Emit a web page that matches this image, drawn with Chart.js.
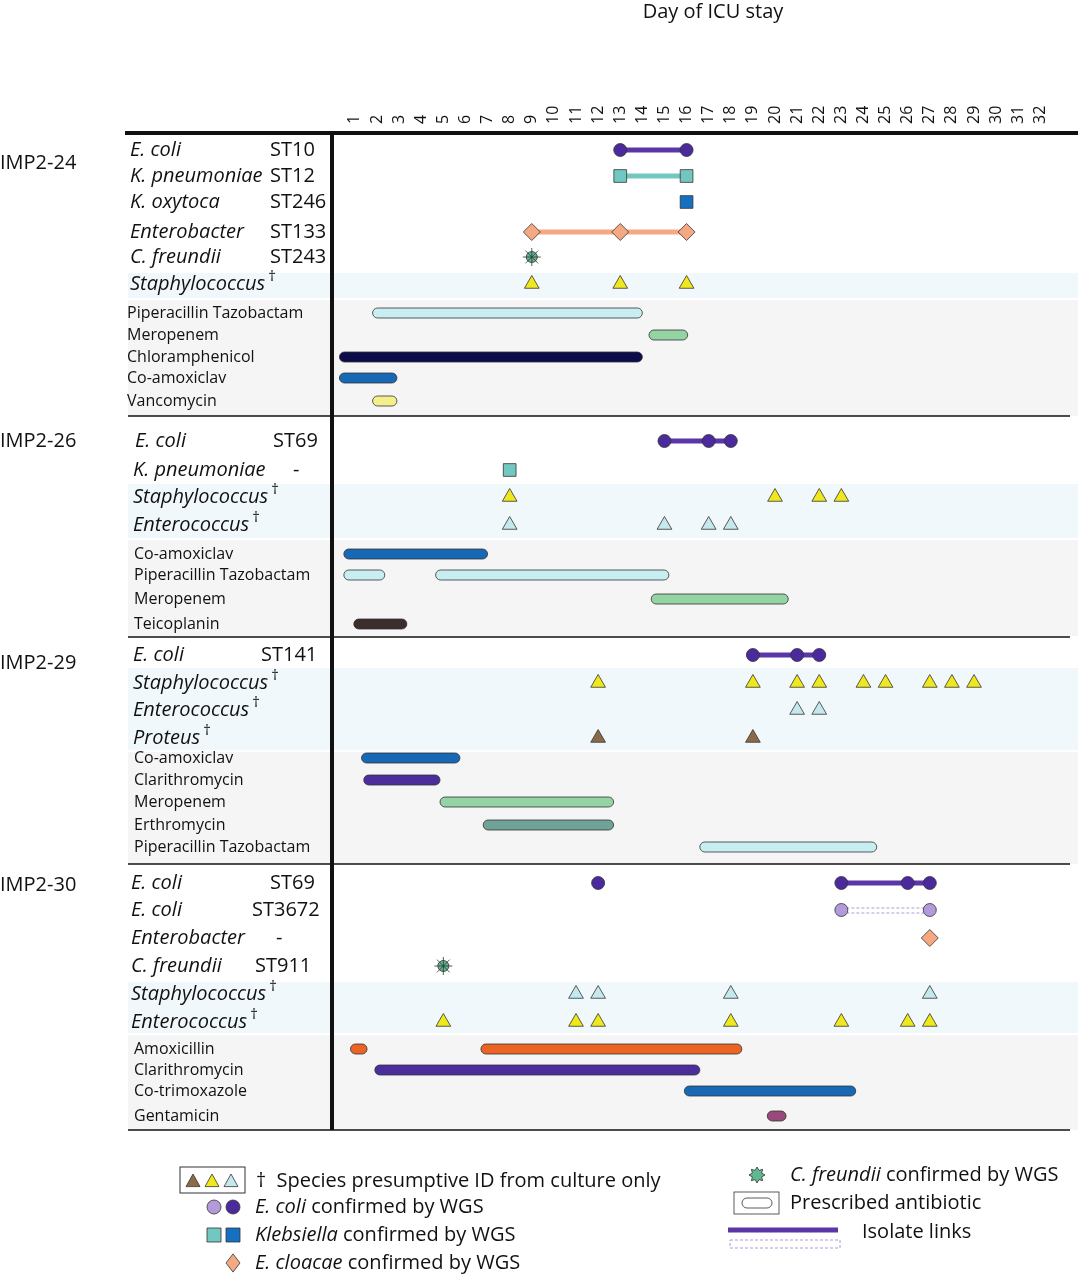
<!DOCTYPE html>
<html><head><meta charset="utf-8">
<script src="https://cdn.jsdelivr.net/npm/chart.js@4.4.0/dist/chart.umd.min.js"></script>
<style>html,body{margin:0;background:#fff}#wrap{width:1080px;height:1280px}</style>
</head><body><div id="wrap"><canvas id="c" width="1080" height="1280"></canvas></div>
<script>
// --- Data (days of ICU stay) ---
const days = Array.from({length: 32}, (_, i) => i + 1);
const patients = ['IMP2-24', 'IMP2-26', 'IMP2-29', 'IMP2-30'];

// IMP2-24
const p24Ecoli = [13, 16];
const p24Kpn = [13, 16];
const p24Koxy = [16];
const p24Entero = [9, 13, 16];
const p24Cfreundii = [9];
const p24Staph = [9, 13, 16];
const p24Abx = ['Piperacillin Tazobactam', 'Meropenem', 'Chloramphenicol', 'Co-amoxiclav', 'Vancomycin'];
const p24AbxStart = [1.8, 14.3, 0.3, 0.3, 1.8];
const p24AbxEnd = [14.0, 16.05, 14.0, 2.9, 2.9];

// IMP2-26
const p26Ecoli = [15, 17, 18];
const p26Kpn = [8];
const p26Staph = [8, 20, 22, 23];
const p26Enterococ = [8, 15, 17, 18];
const p26Abx = ['Co-amoxiclav', 'Piperacillin Tazobactam', 'Piperacillin Tazobactam', 'Meropenem', 'Teicoplanin'];
const p26AbxStart = [0.5, 0.5, 4.65, 14.4, 0.95];
const p26AbxEnd = [7.0, 2.35, 15.2, 20.6, 3.35];

// IMP2-29
const p29Ecoli = [19, 21, 22];
const p29Staph = [12, 19, 21, 22, 24, 25, 27, 28, 29];
const p29Enterococ = [21, 22];
const p29Proteus = [12, 19];
const p29Abx = ['Co-amoxiclav', 'Clarithromycin', 'Meropenem', 'Erthromycin', 'Piperacillin Tazobactam'];
const p29AbxStart = [1.3, 1.4, 4.85, 6.8, 16.6];
const p29AbxEnd = [5.75, 4.85, 12.7, 12.7, 24.6];

// IMP2-30
const p30EcoliA = [12];
const p30EcoliLink = [23, 26, 27];
const p30EcoliB = [23, 27];
const p30Entero = [27];
const p30Cfreundii = [5];
const p30Staph = [11, 12, 18, 27];
const p30Enterococ = [5, 11, 12, 18, 23, 26, 27];
const p30Abx = ['Amoxicillin', 'Amoxicillin', 'Clarithromycin', 'Co-trimoxazole', 'Gentamicin'];
const p30AbxStart = [0.8, 6.7, 1.9, 15.9, 19.65];
const p30AbxEnd = [1.55, 18.5, 16.6, 23.65, 20.5];

// --- Layout (y in px below the top rule) ---
const COL = {
  ecoliD: '#4a2a9c', ecoliL: '#b39ad8', kpnL: '#72c7c0', kpnD: '#1670c2',
  ent: '#f5a982', yel: '#f0e81e', lb: '#c4e8ee', brown: '#8a6a48', cf: '#5fb891',
  link: '#5a36a8'
};
const abxColors = {
  'Piperacillin Tazobactam': '#c9eef2', 'Meropenem': '#93d3a4', 'Chloramphenicol': '#0c0c4a',
  'Co-amoxiclav': '#1769b5', 'Vancomycin': '#f5ee8c', 'Teicoplanin': '#3a2d2a',
  'Clarithromycin': '#4b2d9c', 'Erthromycin': '#6fa397', 'Amoxicillin': '#ec6424',
  'Co-trimoxazole': '#1769b5', 'Gentamicin': '#9a4a7a'
};
const orgRows = [
  {y: 17, sp: 'E. coli', st: 'ST10', stx: 270, x: 130}, {y: 43, sp: 'K. pneumoniae', st: 'ST12', stx: 270, x: 130},
  {y: 69, sp: 'K. oxytoca', st: 'ST246', stx: 270, x: 130}, {y: 99, sp: 'Enterobacter', st: 'ST133', stx: 270, x: 130},
  {y: 124, sp: 'C. freundii', st: 'ST243', stx: 270, x: 130}, {y: 151, sp: 'Staphylococcus', dag: true, x: 130},
  {y: 308, sp: 'E. coli', st: 'ST69', stx: 273, x: 135}, {y: 337, sp: 'K. pneumoniae', st: '-', stx: 293, x: 133},
  {y: 364, sp: 'Staphylococcus', dag: true, x: 133}, {y: 392, sp: 'Enterococcus', dag: true, x: 133},
  {y: 522, sp: 'E. coli', st: 'ST141', stx: 261, x: 133}, {y: 550, sp: 'Staphylococcus', dag: true, x: 133},
  {y: 577, sp: 'Enterococcus', dag: true, x: 133}, {y: 605, sp: 'Proteus', dag: true, x: 133},
  {y: 750, sp: 'E. coli', st: 'ST69', stx: 270, x: 131}, {y: 777, sp: 'E. coli', st: 'ST3672', stx: 252, x: 131},
  {y: 805, sp: 'Enterobacter', st: '-', stx: 276, x: 131}, {y: 833, sp: 'C. freundii', st: 'ST911', stx: 255, x: 131},
  {y: 861, sp: 'Staphylococcus', dag: true, x: 131}, {y: 889, sp: 'Enterococcus', dag: true, x: 131}
];
const abxRowY = [[180, 202, 224, 245, 268], [421, 442, 466, 491], [625, 647, 669, 692, 714], [916, 937, 958, 983]];
const abxLists = [
  [p24Abx, p24AbxStart, p24AbxEnd, [0, 1, 2, 3, 4]],
  [p26Abx, p26AbxStart, p26AbxEnd, [0, 1, 1, 2, 3]],
  [p29Abx, p29AbxStart, p29AbxEnd, [0, 1, 2, 3, 4]],
  [p30Abx, p30AbxStart, p30AbxEnd, [0, 0, 1, 2, 3]]
];
const patientY = [30, 308, 530, 752];
const blueBands = [[140, 165], [351, 405], [535, 617], [849, 900]];
const greyBands = [[167, 283], [407, 503], [619, 731], [902, 997]];
const blockLines = [283, 504, 731, 997];

const R = i => orgRows[i].y;
function pts(d, y) { return d.map(x => ({x, y})); }
const datasets = [];
function link(d, y, color, dash) {
  datasets.push({type: 'line', data: pts(d, y), borderColor: color, borderWidth: dash ? 1 : 5,
    borderDash: dash ? [3, 2] : [], pointRadius: 0, order: 5});
  if (dash) datasets.push({type: 'line', data: pts(d, y + 5), borderColor: color, borderWidth: 1,
    borderDash: [3, 2], pointRadius: 0, order: 5});
}
function marks(d, y, style, color, r) {
  datasets.push({type: 'scatter', data: pts(d, y), pointStyle: style, backgroundColor: color,
    borderColor: '#333', borderWidth: 0.8, pointRadius: r || 6.5, order: 1});
}
// IMP2-24
link(p24Ecoli, R(0), COL.link); marks(p24Ecoli, R(0), 'circle', COL.ecoliD);
link(p24Kpn, R(1), COL.kpnL); marks(p24Kpn, R(1), 'rect', COL.kpnL, 9);
marks(p24Koxy, R(2), 'rect', COL.kpnD, 9);
link(p24Entero, R(3), COL.ent); marks(p24Entero, R(3), 'rectRot', COL.ent, 8.5);
marks(p24Cfreundii, R(4), 'star', COL.cf, 9);
marks(p24Cfreundii, R(4), 'circle', COL.cf, 5.5);
marks(p24Staph, R(5), 'triangle', COL.yel, 8.5);
// IMP2-26
link([15, 18], R(6), COL.link); marks(p26Ecoli, R(6), 'circle', COL.ecoliD);
marks(p26Kpn, R(7), 'rect', COL.kpnL, 9);
marks(p26Staph, R(8), 'triangle', COL.yel, 8.5);
marks(p26Enterococ, R(9), 'triangle', COL.lb, 8.5);
// IMP2-29
link([19, 22], R(10), COL.link); marks(p29Ecoli, R(10), 'circle', COL.ecoliD);
marks(p29Staph, R(11), 'triangle', COL.yel, 8.5);
marks(p29Enterococ, R(12), 'triangle', COL.lb, 8.5);
marks(p29Proteus, R(13), 'triangle', COL.brown, 8.5);
// IMP2-30
marks(p30EcoliA, R(14), 'circle', COL.ecoliD);
link([23, 27], R(14), COL.link); marks(p30EcoliLink, R(14), 'circle', COL.ecoliD);
link(p30EcoliB, R(15) - 2, COL.ecoliL, true); marks(p30EcoliB, R(15), 'circle', COL.ecoliL);
marks(p30Entero, R(16), 'rectRot', COL.ent, 8.5);
marks(p30Cfreundii, R(17), 'star', COL.cf, 9);
marks(p30Cfreundii, R(17), 'circle', COL.cf, 5.5);
marks(p30Staph, R(18), 'triangle', COL.lb, 8.5);
marks(p30Enterococ, R(19), 'triangle', COL.yel, 8.5);

function rr(ctx, x, y, w, h, r) {
  ctx.beginPath(); ctx.moveTo(x + r, y); ctx.arcTo(x + w, y, x + w, y + h, r);
  ctx.arcTo(x + w, y + h, x, y + h, r); ctx.arcTo(x, y + h, x, y, r); ctx.arcTo(x, y, x + w, y, r); ctx.closePath();
}
const FONT = '"Open Sans", sans-serif';

const bgPlugin = {
  id: 'bg',
  beforeDatasetsDraw(chart) {
    const {ctx, scales: {x, y}} = chart;
    ctx.save();
    blueBands.forEach(b => { ctx.fillStyle = '#f0f8fb'; ctx.fillRect(128, y.getPixelForValue(b[0]), 950, y.getPixelForValue(b[1]) - y.getPixelForValue(b[0])); });
    greyBands.forEach(b => { ctx.fillStyle = '#f5f5f5'; ctx.fillRect(128, y.getPixelForValue(b[0]), 950, y.getPixelForValue(b[1]) - y.getPixelForValue(b[0])); });
    // antibiotic bars
    abxLists.forEach((bl, bi) => {
      const [names, st, en] = bl;
      names.forEach((n, i) => {
        const yy = y.getPixelForValue(abxRowY[bi][bl[3][i]]);
        const x0 = x.getPixelForValue(st[i]), x1 = x.getPixelForValue(en[i]);
        rr(ctx, x0, yy - 5, x1 - x0, 10, 5);
        ctx.fillStyle = abxColors[n]; ctx.fill();
        ctx.strokeStyle = '#333'; ctx.lineWidth = 0.8; ctx.stroke();
      });
    });
    ctx.restore();
  },
  afterDraw(chart) {
    const {ctx, scales: {x, y}} = chart;
    ctx.save();
    ctx.fillStyle = '#111'; ctx.strokeStyle = '#111';
    // rules
    blockLines.forEach(v => { const p = y.getPixelForValue(v); ctx.lineWidth = 1.5; ctx.beginPath(); ctx.moveTo(128, p); ctx.lineTo(1070, p); ctx.stroke(); });
    ctx.lineWidth = 4; ctx.beginPath(); ctx.moveTo(125, 133); ctx.lineTo(1078, 133); ctx.stroke();
    ctx.beginPath(); ctx.moveTo(332, 133); ctx.lineTo(332, 1130); ctx.stroke();
    // day ticks
    ctx.font = '16px ' + FONT; ctx.textAlign = 'left'; ctx.textBaseline = 'middle';
    days.forEach(d => { ctx.save(); ctx.translate(x.getPixelForValue(d), 124); ctx.rotate(-Math.PI / 2); ctx.fillText(String(d), 0, 0); ctx.restore(); });
    ctx.font = '20px ' + FONT; ctx.textAlign = 'center'; ctx.textBaseline = 'top';
    ctx.fillText('Day of ICU stay', 713, 2);
    // patient labels
    ctx.textAlign = 'left'; ctx.textBaseline = 'middle'; ctx.font = '20px ' + FONT;
    patients.forEach((p, i) => ctx.fillText(p, 0, y.getPixelForValue(patientY[i])));
    // organism labels
    orgRows.forEach(r => {
      const py = y.getPixelForValue(r.y);
      ctx.font = 'italic 20px ' + FONT; ctx.fillText(r.sp, r.x, py);
      if (r.dag) { const w = ctx.measureText(r.sp).width; ctx.font = '15px ' + FONT; ctx.fillText('\u2020', r.x + w + 3, py - 7); }
      if (r.st) { ctx.font = '20px ' + FONT; ctx.fillText(r.st, r.stx, py); }
    });
    // antibiotic labels
    ctx.font = '16px ' + FONT;
    abxLists.forEach((bl, bi) => {
      const seen = new Set();
      bl[0].forEach((n, i) => { const k = bl[3][i]; if (seen.has(k)) return; seen.add(k);
        ctx.fillText(n, bi === 0 ? 127 : 134, y.getPixelForValue(abxRowY[bi][k])); });
    });
    // legend
    function shape(t, cx, cy, c, s) {
      ctx.fillStyle = c; ctx.strokeStyle = '#333'; ctx.lineWidth = 0.8; ctx.beginPath();
      if (t === 'tri') { ctx.moveTo(cx, cy - s); ctx.lineTo(cx + s, cy + s * 0.8); ctx.lineTo(cx - s, cy + s * 0.8); ctx.closePath(); }
      else if (t === 'circ') ctx.arc(cx, cy, s, 0, Math.PI * 2);
      else if (t === 'sq') ctx.rect(cx - s, cy - s, 2 * s, 2 * s);
      else if (t === 'dia') { ctx.moveTo(cx, cy - s * 1.3); ctx.lineTo(cx + s, cy); ctx.lineTo(cx, cy + s * 1.3); ctx.lineTo(cx - s, cy); ctx.closePath(); }
      ctx.fill(); ctx.stroke();
    }
    ctx.strokeStyle = '#333'; ctx.lineWidth = 1; ctx.strokeRect(180, 1167, 65, 26);
    shape('tri', 193, 1181, COL.brown, 7); shape('tri', 212, 1181, COL.yel, 7); shape('tri', 231, 1181, COL.lb, 7);
    shape('circ', 214, 1207, COL.ecoliL, 7); shape('circ', 233, 1207, COL.ecoliD, 7);
    shape('sq', 214, 1235, COL.kpnL, 7); shape('sq', 233, 1235, COL.kpnD, 7);
    shape('dia', 233, 1263, COL.ent, 7);
    ctx.fillStyle = '#111'; ctx.font = '20px ' + FONT;
    ctx.fillText('\u2020  Species presumptive ID from culture only', 256, 1181);
    const leg = [[1207, 'E. coli', ' confirmed by WGS'], [1235, 'Klebsiella', ' confirmed by WGS'], [1263, 'E. cloacae', ' confirmed by WGS']];
    leg.forEach(l => { ctx.font = 'italic 20px ' + FONT; ctx.fillText(l[1], 255, l[0]); const w = ctx.measureText(l[1]).width;
      ctx.font = '20px ' + FONT; ctx.fillText(l[2], 255 + w, l[0]); });
    // star legend
    ctx.fillStyle = COL.cf; ctx.beginPath();
    for (let i = 0; i < 16; i++) { const a = i * Math.PI / 8, rr2 = i % 2 ? 5 : 8; ctx.lineTo(757 + rr2 * Math.cos(a), 1175 + rr2 * Math.sin(a)); }
    ctx.closePath(); ctx.fill(); ctx.strokeStyle = '#333'; ctx.stroke();
    ctx.fillStyle = '#111'; ctx.font = 'italic 20px ' + FONT; ctx.fillText('C. freundii', 790, 1175);
    let w2 = ctx.measureText('C. freundii').width; ctx.font = '20px ' + FONT; ctx.fillText(' confirmed by WGS', 790 + w2, 1175);
    ctx.strokeRect(734, 1192, 45, 22); rr(ctx, 742, 1198, 30, 10, 5); ctx.stroke();
    ctx.fillText('Prescribed antibiotic', 790, 1203);
    ctx.strokeStyle = COL.link; ctx.lineWidth = 5; ctx.beginPath(); ctx.moveTo(728, 1230); ctx.lineTo(838, 1230); ctx.stroke();
    ctx.strokeStyle = COL.ecoliL; ctx.lineWidth = 1; ctx.setLineDash([3, 2]); ctx.strokeRect(730, 1240, 110, 8); ctx.setLineDash([]);
    ctx.fillText('Isolate links', 862, 1232);
    ctx.restore();
  }
};

new Chart(document.getElementById('c'), {
  data: {datasets},
  options: {
    responsive: false, animation: false, events: [],
    layout: {padding: {left: 335, right: 5, top: 133, bottom: 147}},
    plugins: {legend: {display: false}, tooltip: {enabled: false}},
    scales: {
      x: {type: 'linear', min: 0.1, max: 33.35, display: false},
      y: {type: 'linear', min: 0, max: 1000, reverse: true, display: false}
    }
  },
  plugins: [bgPlugin]
});
</script></body></html>
